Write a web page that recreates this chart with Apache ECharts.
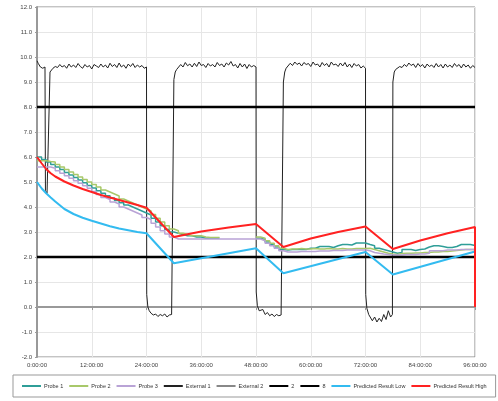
<!DOCTYPE html>
<html><head><meta charset="utf-8">
<script src="https://cdn.jsdelivr.net/npm/echarts@6/dist/echarts.min.js"></script>
<style>html,body{margin:0;padding:0;background:#fff}#c{width:498px;height:401px}</style>
</head><body><div id="c"></div>
<script>
const xTicks = ["0:00:00","12:00:00","24:00:00","36:00:00","48:00:00","60:00:00","72:00:00","84:00:00","96:00:00"];
const seriesNames = ["Probe 1","Probe 2","Probe 3","External 1","External 2","2","8","Predicted Result Low","Predicted Result High"];

// hourly probe readings, hours 0..96 (null = no reading)
const probe1 = [
 6.0,5.9,5.8,5.7,5.6,5.5,5.38,5.28,
 5.18,5.08,4.97,4.86,4.76,4.65,4.55,4.45,
 4.36,4.26,4.17,4.08,4.0,3.92,3.84,3.76,
 3.68,3.55,3.4,3.25,3.1,3.0,2.95,2.9,
 2.85,2.85,2.8,2.8,2.75,2.75,2.75,2.75,
 null,null,null,null,null,null,null,null,
 2.75,2.7,2.6,2.5,2.4,2.3,2.28,2.3,
 2.3,2.3,2.3,2.35,2.35,2.42,2.42,2.42,
 2.38,2.45,2.5,2.5,2.48,2.56,2.56,2.56,
 2.5,2.45,2.35,2.3,2.25,2.2,2.15,2.18,
 2.3,2.3,2.26,2.3,2.32,2.4,2.45,2.45,
 2.42,2.38,2.38,2.42,2.5,2.5,2.5,2.46,
 2.5];
const probe2 = [
 5.85,5.85,5.82,5.8,5.7,5.6,5.5,5.4,
 5.3,5.2,5.1,5.0,4.9,4.8,4.68,4.6,
 4.52,4.44,4.32,4.24,4.16,4.08,4.0,3.92,
 3.84,3.7,3.55,3.4,3.25,3.12,3.05,2.95,
 2.9,2.85,2.85,2.85,2.8,2.78,2.78,2.78,
 null,null,null,null,null,null,null,null,
 2.8,2.75,2.65,2.55,2.45,2.35,2.3,2.32,
 2.32,2.34,2.32,2.32,2.34,2.32,2.32,2.34,
 2.32,2.32,2.34,2.32,2.32,2.34,2.34,2.34,
 2.35,2.3,2.25,2.2,2.15,2.12,2.1,2.14,
 2.15,2.15,2.16,2.16,2.18,2.18,2.2,2.2,
 2.22,2.22,2.24,2.26,2.28,2.3,2.3,2.3,
 2.3];
const probe3 = [
 5.6,5.6,5.6,5.55,5.45,5.35,5.25,5.15,
 5.05,4.95,4.85,4.75,4.62,4.5,4.38,4.3,
 4.2,4.12,4.0,3.92,3.84,3.76,3.68,3.58,
 3.5,3.35,3.2,3.05,2.92,2.8,2.72,2.72,
 2.72,2.72,2.72,2.72,2.72,2.72,2.72,2.72,
 2.72,2.72,2.72,2.72,2.72,2.72,2.72,2.72,
 2.72,2.65,2.55,2.45,2.35,2.25,2.2,2.2,
 2.2,2.22,2.22,2.22,2.22,2.24,2.24,2.24,
 2.26,2.26,2.26,2.28,2.28,2.28,2.28,2.28,
 2.25,2.18,2.15,2.12,2.1,2.08,2.08,2.08,
 2.1,2.1,2.1,2.12,2.12,2.15,2.25,2.25,
 2.25,2.28,2.28,2.28,2.3,2.3,2.3,2.3,
 2.3];

// external sensor trace [hour, value]
const external1 = [
 [0,9.85],[0.25,9.75],[0.5,9.7],[0.75,9.6],[1,9.65],[1.25,9.55],[1.5,9.6],[1.75,9.6],[1.85,4.65],[2.2,4.55],[2.85,9.4],
 [3,9.45],[3.5,9.55],[4,9.62],[4.5,9.58],[5,9.7],[5.5,9.6],[6,9.66],[6.5,9.55],[7,9.72],[7.5,9.6],[8,9.68],[8.5,9.58],
 [9,9.74],[9.5,9.62],[10,9.55],[10.5,9.7],[11,9.6],[11.5,9.66],[12,9.52],[12.5,9.7],[13,9.64],[13.5,9.58],[14,9.72],[14.5,9.6],
 [15,9.68],[15.5,9.56],[16,9.75],[16.5,9.62],[17,9.7],[17.5,9.58],[18,9.76],[18.5,9.6],[19,9.68],[19.5,9.55],[20,9.72],[20.5,9.62],
 [21,9.74],[21.5,9.58],[22,9.68],[22.5,9.6],[23,9.66],[23.5,9.55],[24,9.6],
 [24.05,0.5],[24.3,0.0],[24.6,-0.15],[25,-0.25],[25.5,-0.32],[26,-0.28],[26.5,-0.38],[27,-0.3],[27.5,-0.35],[28,-0.28],[28.5,-0.4],[29,-0.32],[29.5,-0.3],[29.9,-0.33],
 [30,9.1],[30.3,9.4],[30.6,9.5],
 [31,9.55],[31.5,9.7],[32,9.6],[32.5,9.78],[33,9.65],[33.5,9.72],[34,9.6],[34.5,9.75],[35,9.62],[35.5,9.8],[36,9.66],[36.5,9.7],
 [37,9.58],[37.5,9.74],[38,9.64],[38.5,9.7],[39,9.6],[39.5,9.78],[40,9.66],[40.5,9.72],[41,9.6],[41.5,9.76],[42,9.68],[42.5,9.82],
 [43,9.64],[43.5,9.7],[44,9.56],[44.5,9.74],[45,9.6],[45.5,9.72],[46,9.54],[46.5,9.7],[47,9.6],[47.5,9.66],[48,9.6],
 [48.05,0.6],[48.3,0.05],[48.7,-0.15],[49,-0.2],[49.5,-0.1],[50,-0.3],[50.5,-0.22],[51,-0.35],[51.5,-0.28],[52,-0.38],[52.5,-0.3],[53,-0.35],[53.5,-0.32],[53.9,-0.3],
 [54,9.0],[54.3,9.4],[54.6,9.55],
 [55,9.6],[55.5,9.75],[56,9.66],[56.5,9.8],[57,9.7],[57.5,9.76],[58,9.64],[58.5,9.78],[59,9.7],[59.5,9.74],[60,9.62],[60.5,9.8],
 [61,9.68],[61.5,9.72],[62,9.6],[62.5,9.78],[63,9.66],[63.5,9.74],[64,9.6],[64.5,9.8],[65,9.68],[65.5,9.72],[66,9.62],[66.5,9.76],
 [67,9.64],[67.5,9.78],[68,9.6],[68.5,9.72],[69,9.58],[69.5,9.74],[70,9.64],[70.5,9.7],[71,9.56],[71.5,9.64],[72,9.55],
 [72.05,0.5],[72.3,-0.05],[72.7,-0.3],[73,-0.35],[73.5,-0.55],[74,-0.4],[74.5,-0.6],[75,-0.45],[75.5,-0.58],[76,-0.3],[76.5,-0.5],[77,-0.15],[77.5,-0.4],[77.9,-0.3],
 [78,9.0],[78.3,9.4],[78.6,9.5],
 [79,9.55],[79.5,9.62],[80,9.58],[80.5,9.7],[81,9.62],[81.5,9.76],[82,9.66],[82.5,9.72],[83,9.58],[83.5,9.74],[84,9.62],[84.5,9.7],
 [85,9.56],[85.5,9.72],[86,9.62],[86.5,9.68],[87,9.58],[87.5,9.74],[88,9.6],[88.5,9.7],[89,9.56],[89.5,9.72],[90,9.6],[90.5,9.68],
 [91,9.58],[91.5,9.74],[92,9.62],[92.5,9.7],[93,9.56],[93.5,9.72],[94,9.6],[94.5,9.68],[95,9.55],[95.5,9.66],[96,9.58]
];
const external2 = [];
const limit2 = [[0,2],[96,2]];
const limit8 = [[0,8],[96,8]];
const predLow = [[0,5.0],[1,4.75],[2,4.55],[3,4.38],[4,4.22],[6,3.92],[8,3.72],[10,3.57],[12,3.45],[14,3.34],[16,3.23],[18,3.14],[20,3.07],[22,3.0],[24,2.95],
 [30,1.75],[48,2.35],[54,1.35],[72,2.2],[78,1.3],[96,2.22]];
const predHigh = [[0,6.0],[1,5.75],[2,5.52],[3,5.35],[4,5.22],[6,5.02],[8,4.86],[10,4.72],[12,4.6],[14,4.48],[16,4.38],[18,4.28],[20,4.18],[22,4.08],[24,3.97],
 [30,2.8],[36,3.02],[42,3.18],[48,3.32],[54,2.4],[60,2.74],[66,3.0],[72,3.22],[78,2.32],[84,2.66],[90,2.95],[96,3.2],[96,0]];

const hourly = arr => arr.map((v,i)=>[i,v]);
const colors = ["#2f9e98","#a8c86a","#b9a3d6","#222222","#888888","#000000","#000000","#33bbf0","#ff2222"];
const dataSets = [hourly(probe1),hourly(probe2),hourly(probe3),external1,external2,limit2,limit8,predLow,predHigh];
const widths = [1.5,1.5,1.5,1,1,2.5,2.5,2,2];

const chart = echarts.init(document.getElementById('c'), null, {renderer:'canvas'});
chart.setOption({
  animation:false,
  backgroundColor:'#fff',
  grid:{left:37,right:23,top:7,bottom:44,show:true,borderColor:'#888',borderWidth:1},
  xAxis:{type:'value',min:0,max:96,interval:12,
    axisLine:{show:true,lineStyle:{color:'#999',width:2}},
    axisTick:{show:true,length:3,lineStyle:{color:'#999'}},
    splitLine:{show:true,lineStyle:{color:'#e6e6e6'}},
    axisLabel:{fontSize:6,color:'#444',margin:5,fontFamily:'Liberation Sans',
      formatter:v=>xTicks[Math.round(v/12)]}},
  yAxis:{type:'value',min:-2,max:12,interval:1,
    axisLine:{show:true,lineStyle:{color:'#999',width:2}},
    axisTick:{show:true,length:2,lineStyle:{color:'#999'}},
    splitLine:{show:true,lineStyle:{color:'#e6e6e6'}},
    axisLabel:{fontSize:6,color:'#444',margin:5,fontFamily:'Liberation Sans',formatter:v=>v.toFixed(1)}},
  legend:{left:13,top:375,width:900,data:seriesNames,icon:'rect',itemWidth:19,itemHeight:2,itemGap:6,
    borderColor:'#999',borderWidth:1,padding:[8,9,8,9],
    textStyle:{fontSize:5.5,color:'#333',fontFamily:'Liberation Sans',padding:[0,0,0,-2]}},
  series:seriesNames.map((n,i)=>({
    name:n,type:'line',data:dataSets[i],showSymbol:false,symbol:'none',
    step:(i<3)?'end':false,connectNulls:false,
    z:(i===3?2:(i>=7?4:3)),
    color:colors[i],
    itemStyle:{color:colors[i]},
    lineStyle:{color:colors[i],width:widths[i]}
  }))
});
</script></body></html>
